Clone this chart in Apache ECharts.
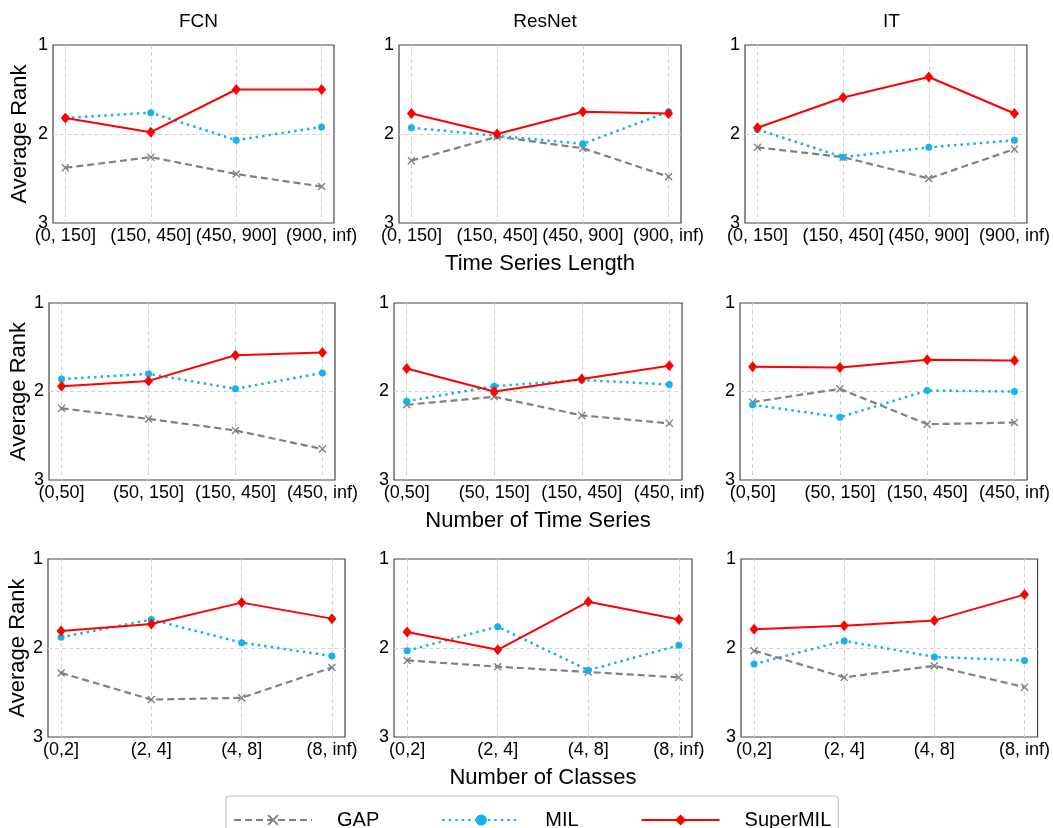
<!DOCTYPE html>
<html>
<head>
<meta charset="utf-8">
<title>Average Rank</title>
<script src="https://cdn.jsdelivr.net/npm/echarts@6/dist/echarts.min.js"></script>
<style>
  html, body { margin: 0; padding: 0; background: #fff; }
  #main { width: 1053px; height: 828px; }
</style>
</head>
<body>
<div id="main"></div>
<script>
var models = ['FCN', 'ResNet', 'IT'];
var groupNames = ['Time Series Length', 'Number of Time Series', 'Number of Classes'];
var methods = ['GAP', 'MIL', 'SuperMIL'];

var lengthCats = ['(0, 150]', '(150, 450]', '(450, 900]', '(900, inf)'];
var seriesCats = ['(0,50]', '(50, 150]', '(150, 450]', '(450, inf)'];
var classCats = ['(0,2]', '(2, 4]', '(4, 8]', '(8, inf)'];

// one row per model: FCN, ResNet, IT
var gapLength = [[2.38, 2.26, 2.45, 2.59], [2.30, 2.03, 2.16, 2.48], [2.15, 2.26, 2.50, 2.17]];
var milLength = [[1.82, 1.76, 2.07, 1.92], [1.93, 2.02, 2.11, 1.75], [1.95, 2.26, 2.15, 2.07]];
var superLength = [[1.82, 1.98, 1.50, 1.50], [1.77, 2.00, 1.75, 1.77], [1.93, 1.59, 1.36, 1.77]];

var gapSeries = [[2.19, 2.31, 2.44, 2.65], [2.15, 2.06, 2.27, 2.36], [2.12, 1.97, 2.37, 2.35]];
var milSeries = [[1.86, 1.80, 1.97, 1.79], [2.11, 1.94, 1.87, 1.92], [2.15, 2.29, 1.99, 2.00]];
var superSeries = [[1.94, 1.88, 1.59, 1.56], [1.74, 2.00, 1.86, 1.71], [1.72, 1.73, 1.64, 1.65]];

var gapClasses = [[2.28, 2.58, 2.56, 2.22], [2.14, 2.21, 2.27, 2.33], [2.03, 2.33, 2.20, 2.44]];
var milClasses = [[1.88, 1.68, 1.94, 2.09], [2.03, 1.76, 2.25, 1.97], [2.18, 1.92, 2.10, 2.14]];
var superClasses = [[1.81, 1.73, 1.49, 1.67], [1.82, 2.02, 1.48, 1.68], [1.79, 1.75, 1.69, 1.40]];

var yTicks = [1, 2, 3];

// layout (px): [left, right, top, bottom] for each panel, by row
var boxes = [
  [[53, 334, 45, 223], [399, 681, 45, 223], [745, 1028, 45, 223]],
  [[49, 335, 303, 480], [394, 682, 303, 480], [740, 1028, 303, 480]],
  [[48, 345, 559, 737], [394, 692, 559, 737], [741, 1039, 559, 737]]
];
var namePad = [22, 18, 17];

var rows = [
  { cats: lengthCats, gap: gapLength, mil: milLength, sup: superLength },
  { cats: seriesCats, gap: gapSeries, mil: milSeries, sup: superSeries },
  { cats: classCats, gap: gapClasses, mil: milClasses, sup: superClasses }
];

var font = 'Liberation Sans, Arial, sans-serif';
var crossPath = 'path://M0,1.2 L1.2,0 L5,3.8 L8.8,0 L10,1.2 L6.2,5 L10,8.8 L8.8,10 L5,6.2 L1.2,10 L0,8.8 L3.8,5 Z';
var colors = { GAP: '#808080', MIL: '#17b1ec', SuperMIL: '#ff0000' };

function toPoints(arr) {
  return arr.map(function (v, i) { return [i, v]; });
}

var grids = [], xAxes = [], yAxes = [], series = [], titles = [];

rows.forEach(function (row, r) {
  for (var c = 0; c < 3; c++) {
    var b = boxes[r][c];
    var idx = grids.length;
    grids.push({
      left: b[0], top: b[2], width: b[1] - b[0], height: b[3] - b[2],
      show: true, borderColor: '#444', borderWidth: 1.2, backgroundColor: 'transparent'
    });
    (function (cats) {
      xAxes.push({
        gridIndex: idx, type: 'value', min: -0.145, max: 3.145,
        axisLine: { show: false },
        axisTick: { show: false, customValues: [0, 1, 2, 3] },
        axisLabel: {
          customValues: [0, 1, 2, 3], color: '#000', fontSize: 18, fontFamily: font, margin: 4,
          formatter: function (v) { return cats[Math.round(v)]; }
        },
        splitLine: { show: true, lineStyle: { color: '#d2d2d2', type: [4, 3], width: 1 } },
        name: c === 1 ? groupNames[r] : '',
        nameLocation: 'middle', nameGap: 30,
        nameTextStyle: { color: '#000', fontSize: 22, fontFamily: font }
      });
    })(row.cats);
    yAxes.push({
      gridIndex: idx, type: 'value', inverse: true, min: 1, max: 3, interval: 1,
      axisLine: { show: false },
      axisTick: { show: false, customValues: [2] },
      axisLabel: { customValues: yTicks, color: '#000', fontSize: 18, fontFamily: font, margin: 5 },
      splitLine: { show: true, lineStyle: { color: '#d2d2d2', type: [4, 3], width: 1 } },
      name: c === 0 ? 'Average Rank' : '',
      nameLocation: 'middle', nameRotate: 90, nameGap: namePad[r],
      nameTextStyle: { color: '#000', fontSize: 22, fontFamily: font }
    });
    series.push({
      name: 'GAP', type: 'line', xAxisIndex: idx, yAxisIndex: idx, z: 2,
      data: toPoints(row.gap[c]), symbol: crossPath, symbolSize: 8,
      itemStyle: { color: colors.GAP },
      lineStyle: { color: colors.GAP, width: 2.2, type: [7, 4] }
    });
    series.push({
      name: 'MIL', type: 'line', xAxisIndex: idx, yAxisIndex: idx, z: 3,
      data: toPoints(row.mil[c]), symbol: 'circle', symbolSize: 7,
      itemStyle: { color: colors.MIL },
      lineStyle: { color: colors.MIL, width: 2.5, type: [2.5, 4] }
    });
    series.push({
      name: 'SuperMIL', type: 'line', xAxisIndex: idx, yAxisIndex: idx, z: 4,
      data: toPoints(row.sup[c]), symbol: 'diamond', symbolSize: [9, 11],
      itemStyle: { color: colors.SuperMIL },
      lineStyle: { color: colors.SuperMIL, width: 2 }
    });
  }
});

models.forEach(function (m, c) {
  var b = boxes[0][c];
  titles.push({
    text: m, left: (b[0] + b[1]) / 2, top: 7, textAlign: 'center',
    textStyle: { color: '#000', fontSize: 19, fontWeight: 'normal', fontFamily: font }
  });
});

var chart = echarts.init(document.getElementById('main'));
chart.setOption({
  animation: false,
  backgroundColor: '#fff',
  title: titles,
  grid: grids,
  xAxis: xAxes,
  yAxis: yAxes,
  legend: {
    data: methods,
    left: 226, top: 796,
    padding: [14, 7, 12, 7],
    borderColor: '#bbbbbb', borderWidth: 1, borderRadius: 3,
    itemWidth: 78, itemHeight: 14, itemGap: 62,
    textStyle: { color: '#000', fontSize: 20, fontFamily: font, padding: [0, 0, 0, 20] }
  },
  series: series
});
</script>
</body>
</html>
